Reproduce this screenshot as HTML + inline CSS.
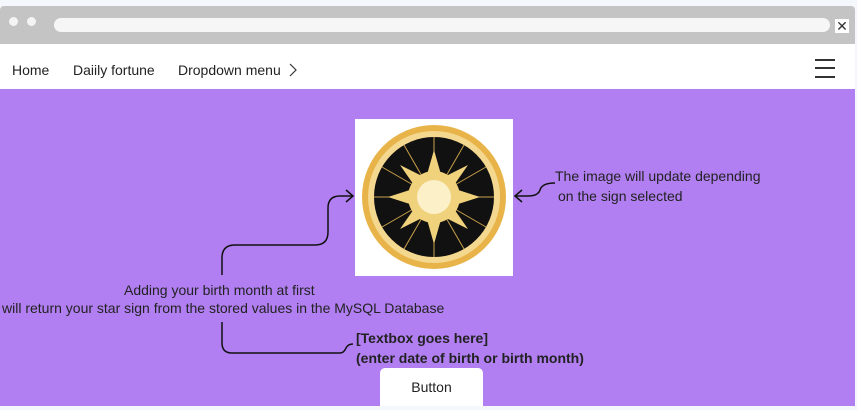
<!DOCTYPE html>
<html><head><style>
body{margin:0;width:857px;height:410px;background:#f4f8fc;position:relative;overflow:hidden;font-family:"Liberation Sans",sans-serif;color:#222}
.abs{position:absolute}
.nav{position:absolute;top:62px;font-size:14px;line-height:17px}
</style></head><body>
<div class="abs" style="left:0;top:6px;width:855px;height:38px;background:#c4c4c4;border-radius:4px 4px 0 0"></div>
<div class="abs" style="left:9px;top:17px;width:9px;height:9px;border-radius:50%;background:#f4f4f4"></div>
<div class="abs" style="left:27px;top:17px;width:9px;height:9px;border-radius:50%;background:#f4f4f4"></div>
<div class="abs" style="left:54px;top:18px;width:776px;height:14px;border-radius:7px;background:#f6f6f6"></div>
<div class="abs" style="left:835px;top:19px;width:14px;height:14px;background:#fff;font-size:14px;line-height:14px;text-align:center;color:#333">✕</div>
<div class="abs" style="left:0;top:44px;width:855px;height:45px;background:#fff"></div>
<div class="nav" style="left:12px">Home</div>
<div class="nav" style="left:73px">Daiily fortune</div>
<div class="nav" style="left:178px">Dropdown menu</div>
<svg class="abs" style="left:288px;top:62px" width="10" height="16"><path d="M2 2 L8 8 L2 14" stroke="#333" stroke-width="1.2" fill="none"/></svg>
<div class="abs" style="left:815px;top:59px;width:20px;height:2px;background:#333"></div>
<div class="abs" style="left:815px;top:67px;width:20px;height:2px;background:#333"></div>
<div class="abs" style="left:815px;top:76px;width:20px;height:2px;background:#333"></div>
<div class="abs" style="left:0;top:89px;width:855px;height:317px;background:#b17ff2"></div>
<div class="abs" style="left:355px;top:119px;width:158px;height:157px;background:#fff"></div>
<svg class="abs" style="left:0;top:0" width="857" height="410">
<circle cx="434" cy="197" r="72" fill="#e8b44a"/>
<circle cx="434" cy="197" r="66" fill="#f5d890"/>
<circle cx="434" cy="197" r="60" fill="#111"/>
<g stroke="#c9a24a" stroke-width="1">
<line x1="434" y1="137" x2="434" y2="257"/><line x1="374" y1="197" x2="494" y2="197"/>
<line x1="404" y1="145" x2="464" y2="249"/><line x1="464" y1="145" x2="404" y2="249"/>
<line x1="382" y1="167" x2="486" y2="227"/><line x1="486" y1="167" x2="382" y2="227"/>
</g>
<circle cx="434" cy="197" r="44" fill="none" stroke="#111" stroke-width="0"/>
<polygon points="434,150 442,178 468,165 452,188 480,197 452,206 468,229 442,216 434,244 426,216 400,229 416,206 388,197 416,188 400,165 426,178" fill="#f1d27c"/>
<circle cx="434" cy="197" r="26" fill="#f1d27c"/>
<circle cx="434" cy="197" r="17" fill="#fbf0c8"/>
<g stroke="#111" stroke-width="1.5" fill="none">
<path d="M222 275 V258 Q222 245 235 245 H315 Q328 245 328 232 V208 Q328 196 340 196 H353"/>
<path d="M346 190 L353 196 L346 202"/>
<path d="M222 322 V343 Q222 353 232 353 H340 Q344 353 346 348 Q348 344 353 344"/>
<path d="M555 183 Q542 183 540 190 Q538 196 528 196 H515"/>
<path d="M522 190 L515 196 L522 202"/>
</g>
<g font-family="Liberation Sans,sans-serif" font-size="14" fill="#222">
<text x="555" y="181">The image will update depending</text>
<text x="558" y="201">on the sign selected</text>
<text x="124" y="295">Adding your birth month at first</text>
<text x="2" y="313">will return your star sign from the stored values in the MySQL Database</text>
<text x="356" y="343" font-weight="bold">[Textbox goes here]</text>
<text x="356" y="363" font-weight="bold">(enter date of birth or birth month)</text>
</g>
</svg>
<div class="abs" style="left:380px;top:368px;width:103px;height:38px;background:#fff;border-radius:5px 5px 0 0;font-size:14px;line-height:38px;text-align:center">Button</div>
</body></html>
